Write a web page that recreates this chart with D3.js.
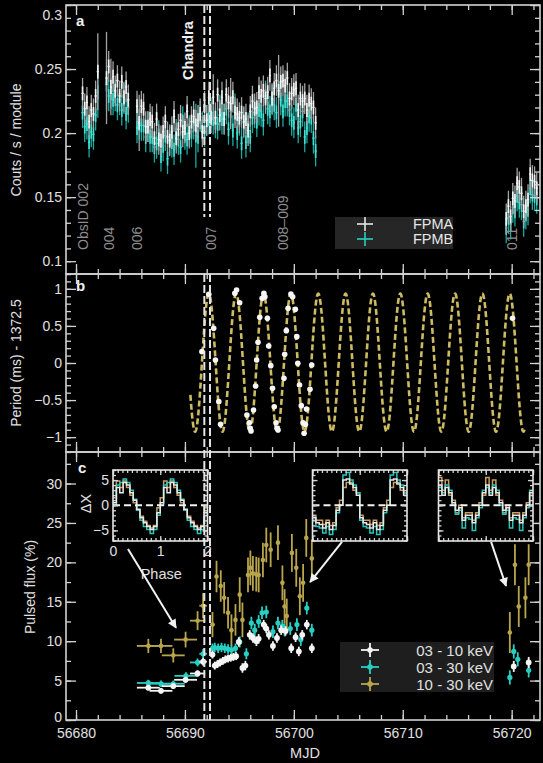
<!DOCTYPE html>
<html>
<head>
<meta charset="utf-8">
<script src="https://cdn.jsdelivr.net/npm/d3@7/dist/d3.min.js"></script>
<style>
html, body { margin: 0; padding: 0; background: #000; }
svg { display: block; }
</style>
</head>
<body>
<svg id="chart"></svg>
<script>
// ---------------- data ----------------

// NuSTAR count-rate light curve (counts / s / module), 0.2-day bins
const binWidth = 0.2;
const segmentStart = [56680.6, 56682.8, 56685.6, 56719.5];

const fpmaObs002 = [0.231, 0.219, 0.224, 0.209, 0.218, 0.215, 0.229, 0.248];
const fpmbObs002 = [0.216, 0.205, 0.207, 0.193, 0.201, 0.199, 0.214, 0.232];

const fpmaObs004 = [0.243, 0.252, 0.236, 0.244, 0.233, 0.241, 0.229, 0.240, 0.228, 0.236, 0.226];
const fpmbObs004 = [0.238, 0.229, 0.231, 0.226, 0.229, 0.222, 0.226, 0.218, 0.227, 0.215, 0.220];

const fpmaObs006to009 = [
  0.221, 0.208, 0.221, 0.219, 0.205, 0.205, 0.211, 0.209, 0.196, 0.211,
  0.195, 0.194, 0.201, 0.209, 0.197, 0.194, 0.201, 0.213, 0.196, 0.203,
  0.210, 0.201, 0.204, 0.217, 0.200, 0.209, 0.213, 0.206, 0.210, 0.215,
  0.201, 0.221, 0.210, 0.228, 0.212, 0.228, 0.212, 0.230, 0.214, 0.228,
  0.211, 0.230, 0.224, 0.223, 0.228, 0.216, 0.215, 0.212, 0.216, 0.209,
  0.211, 0.202, 0.217, 0.225, 0.219, 0.220, 0.232, 0.229, 0.233, 0.227,
  0.232, 0.245, 0.227, 0.235, 0.241, 0.233, 0.240, 0.241, 0.237, 0.243,
  0.227, 0.231, 0.234, 0.235, 0.218, 0.227, 0.225, 0.227, 0.218, 0.226,
  0.223, 0.220, 0.208
];
const fpmbObs006to009 = [
  0.204, 0.207, 0.206, 0.206, 0.197, 0.205, 0.197, 0.197, 0.189, 0.192,
  0.198, 0.182, 0.190, 0.198, 0.180, 0.195, 0.193, 0.187, 0.199, 0.195,
  0.189, 0.209, 0.199, 0.195, 0.202, 0.201, 0.207, 0.198, 0.197, 0.213,
  0.205, 0.201, 0.210, 0.211, 0.216, 0.211, 0.208, 0.207, 0.218, 0.211,
  0.211, 0.219, 0.203, 0.217, 0.202, 0.219, 0.200, 0.210, 0.192, 0.208,
  0.193, 0.204, 0.197, 0.212, 0.216, 0.209, 0.218, 0.217, 0.210, 0.229,
  0.219, 0.217, 0.226, 0.222, 0.216, 0.235, 0.226, 0.217, 0.225, 0.225,
  0.218, 0.210, 0.208, 0.222, 0.204, 0.209, 0.217, 0.197, 0.204, 0.213,
  0.212, 0.196, 0.186
];

const fpmaObs011 = [0.133, 0.143, 0.135, 0.149, 0.147, 0.161, 0.158, 0.153, 0.139, 0.143, 0.148, 0.168, 0.163, 0.162, 0.157];
const fpmbObs011 = [0.126, 0.134, 0.129, 0.142, 0.139, 0.151, 0.146, 0.144, 0.131, 0.137, 0.140, 0.157, 0.152, 0.151, 0.149];

// typical 1-sigma rate error, and bins with larger errors [MJD, error]
const rateErr = 0.012;
const fpmaWideErr = [[56682.0, 0.030], [56682.8, 0.036], [56683.2, 0.022], [56685.8, 0.022],
                     [56692.6, 0.018], [56694.2, 0.020], [56698.6, 0.028]];
const fpmbWideErr = [[56682.0, 0.020], [56682.8, 0.020], [56691.0, 0.025]];

// ObsID labels and their MJD positions
const obsLabels = ["ObsID 002", "004", "006", "007", "008–009", "011"];
const obsLabelMJD = [56680.64, 56683.03, 56685.60, 56692.39, 56699.01, 56720.04];

// Chandra observation window
const chandraMJD = [56691.78, 56692.30];

// Pulse period measurements [MJD, period - 1372.5 ms]
const periodPoints = [
  [56691.56, 0.153], [56692.19, 0.926], [56692.64, 0.467], [56692.80, 0.040],
  [56693.11, -0.521], [56693.27, -0.827], [56694.58, 0.939], [56694.74, 0.984],
  [56695.02, 0.813], [56695.69, -0.701], [56695.91, -0.805], [56695.98, -0.881],
  [56696.07, -0.917], [56696.30, -0.634], [56696.49, -0.310], [56696.58, 0.040],
  [56696.71, 0.279], [56696.87, 0.616], [56697.09, 0.872], [56697.25, 0.939],
  [56697.34, 0.894], [56697.57, 0.602], [56697.69, 0.229], [56697.88, -0.036],
  [56698.04, -0.342], [56698.20, -0.589], [56698.36, -0.805], [56698.46, -0.881],
  [56698.55, -0.903], [56699.09, -0.207], [56699.16, 0.117], [56699.31, 0.436],
  [56699.47, 0.737], [56699.73, 0.930], [56699.89, 0.894], [56700.14, 0.724],
  [56700.27, 0.355], [56700.36, -0.004], [56700.52, -0.297], [56700.68, -0.575],
  [56700.84, -0.805], [56700.94, -0.948], [56701.06, -0.827], [56701.16, -0.620],
  [56701.48, -0.355], [56701.64, -0.027], [56720.08, 0.602]
];

// Orbital model for the period modulation
const orbitPeriod = 2.512;     // days
const orbitAmp = 0.93;         // ms
const orbitOffset = 0.005;     // ms
const orbitPeakMJD = 56692.19;
const orbitSpan = [56690.50, 56721.19];

// Pulsed flux (%) per energy band: [MJD, value, half bin width, error]
const band03to10 = [
  [56686.64, 4.1, 1.05, 0.35], [56687.80, 3.7, 1.05, 0.35], [56688.93, 4.3, 1.05, 0.35],
  [56690.06, 5.1, 1.05, 0.4], [56691.16, 5.9, 0.7, 0.4], [56691.67, 7.4, 0.35, 0.5],
  [56692.53, 8.3, 0.2, 0.5], [56692.74, 6.9, 0.12, 0.5], [56692.99, 7.1, 0.12, 0.5],
  [56693.23, 7.3, 0.12, 0.5], [56693.48, 7.5, 0.12, 0.5], [56693.72, 7.7, 0.12, 0.5],
  [56693.96, 7.8, 0.12, 0.5], [56694.21, 7.9, 0.12, 0.5], [56694.45, 8.0, 0.12, 0.5],
  [56694.70, 8.1, 0.12, 0.5], [56694.94, 9.9, 0.12, 0.6], [56695.28, 6.6, 0.12, 0.6],
  [56695.55, 6.9, 0.12, 0.6], [56695.95, 10.8, 0.12, 0.6], [56696.25, 10.4, 0.12, 0.6],
  [56696.56, 10.0, 0.12, 0.6], [56696.77, 10.3, 0.12, 0.6], [56697.23, 12.1, 0.12, 0.6],
  [56697.47, 11.6, 0.12, 0.6], [56697.71, 10.8, 0.12, 0.6], [56698.08, 9.4, 0.12, 0.6],
  [56698.45, 10.4, 0.12, 0.6], [56698.84, 11.4, 0.12, 0.6], [56699.24, 11.3, 0.12, 0.6],
  [56699.76, 9.1, 0.12, 0.6], [56700.16, 10.5, 0.12, 0.6], [56700.46, 8.7, 0.12, 0.6],
  [56700.77, 10.8, 0.12, 0.6], [56701.19, 12.1, 0.12, 0.6], [56701.65, 9.1, 0.12, 0.6],
  [56720.19, 6.8, 0.12, 0.7], [56721.56, 7.3, 0.12, 0.7]
];
const band03to30 = [
  [56686.64, 4.7, 1.05, 0.4], [56687.80, 4.6, 1.05, 0.4], [56688.93, 4.6, 1.05, 0.4],
  [56690.09, 5.6, 1.05, 0.45], [56691.16, 7.3, 0.7, 0.5], [56691.67, 8.4, 0.35, 0.6],
  [56692.53, 9.1, 0.2, 0.6], [56692.74, 9.2, 0.12, 0.6], [56693.05, 9.1, 0.12, 0.6],
  [56693.36, 9.2, 0.12, 0.6], [56693.66, 9.1, 0.12, 0.6], [56693.96, 9.0, 0.12, 0.6],
  [56694.27, 8.9, 0.12, 0.6], [56694.64, 9.1, 0.12, 0.6], [56695.03, 9.9, 0.12, 0.7],
  [56695.64, 8.4, 0.12, 0.7], [56696.10, 12.3, 0.12, 0.8], [56696.41, 11.4, 0.12, 0.8],
  [56696.77, 12.5, 0.12, 0.8], [56697.08, 13.6, 0.12, 0.8], [56697.47, 13.7, 0.12, 0.8],
  [56698.08, 11.2, 0.12, 0.8], [56698.54, 12.3, 0.12, 0.8], [56698.94, 11.9, 0.12, 0.8],
  [56699.15, 11.4, 0.12, 0.8], [56699.67, 11.6, 0.12, 0.8], [56700.28, 12.1, 0.12, 0.8],
  [56700.64, 10.2, 0.12, 0.8], [56701.19, 14.2, 0.12, 0.8], [56701.65, 11.4, 0.12, 0.8],
  [56719.83, 5.4, 0.12, 0.9], [56720.19, 8.7, 0.12, 0.9], [56720.56, 7.7, 0.12, 0.9],
  [56721.56, 6.3, 0.12, 0.9]
];
const band10to30 = [
  [56686.64, 9.4, 1.05, 0.9], [56687.80, 9.4, 1.05, 0.9], [56688.93, 8.2, 1.05, 0.9],
  [56690.06, 10.2, 1.05, 1.0], [56691.16, 12.6, 0.7, 1.2], [56691.67, 14.5, 0.35, 1.6],
  [56692.53, 12.1, 0.2, 1.6], [56692.90, 18.2, 0.12, 2.0], [56693.29, 17.0, 0.12, 2.0],
  [56693.60, 15.5, 0.12, 2.0], [56693.96, 13.6, 0.12, 2.0], [56694.27, 11.4, 0.12, 2.0],
  [56694.64, 12.7, 0.12, 2.0], [56695.03, 15.9, 0.12, 2.2], [56695.28, 12.7, 0.12, 2.2],
  [56695.79, 18.4, 0.12, 2.2], [56696.01, 19.3, 0.12, 2.2], [56696.24, 18.6, 0.12, 2.2],
  [56696.55, 18.5, 0.12, 2.2], [56696.77, 18.4, 0.12, 2.2], [56697.16, 20.3, 0.12, 2.2],
  [56697.47, 22.2, 0.12, 2.2], [56697.87, 21.6, 0.12, 2.2], [56698.54, 22.5, 0.12, 2.2],
  [56698.95, 17.4, 0.12, 2.2], [56699.15, 14.4, 0.12, 2.2], [56699.35, 13.2, 0.12, 2.2],
  [56699.82, 21.2, 0.12, 2.4], [56700.22, 19.3, 0.12, 2.4], [56700.55, 15.7, 0.12, 2.4],
  [56700.85, 17.4, 0.12, 2.4], [56701.14, 23.1, 0.12, 2.4], [56701.65, 20.5, 0.12, 2.4],
  [56719.83, 11.1, 0.12, 2.6], [56720.30, 19.7, 0.12, 2.6], [56720.65, 14.4, 0.12, 2.6],
  [56721.26, 15.5, 0.12, 2.6], [56721.56, 19.7, 0.12, 2.6]
];

// Pulse profiles (ΔX per phase bin, 14 bins per cycle) for three epochs
const prof1Soft  = [0.5, 3.5, 2.5, 4.5, 4.0, 2.5, 1.0, -0.8, -2.5, -3.5, -4.2, -4.8, -4.2, -1.5];
const prof1Broad = [0.0, 4.0, 4.5, 5.2, 4.5, 3.0, 1.2, -1.0, -3.0, -4.2, -4.8, -5.6, -4.8, -2.0];
const prof1Hard  = [1.5, 4.8, 3.5, 4.8, 3.5, 2.0, 0.5, -1.0, -2.2, -3.2, -4.0, -4.5, -4.0, -0.5];
const prof2Soft  = [-2.5, -3.5, -3.8, -4.5, -3.5, -4.8, -4.0, -1.0, 0.0, 5.0, 5.2, 4.2, 3.5, 2.0];
const prof2Broad = [-3.0, -4.2, -4.5, -5.5, -4.2, -5.8, -4.8, -1.5, 0.0, 6.0, 6.5, 5.0, 4.0, 2.5];
const prof2Hard  = [-2.0, -3.0, -3.0, -3.8, -3.0, -4.0, -3.5, -0.5, 1.0, 3.5, 4.5, 4.5, 3.0, 2.5];
const prof3Soft  = [4.0, 2.0, 3.5, 2.5, 0.5, -1.0, -0.5, -3.0, -2.0, -2.0, -3.5, -2.0, 0.0, 2.5];
const prof3Broad = [3.5, 2.5, 4.0, 3.0, 0.0, -1.8, -1.0, -4.5, -2.5, -2.8, -5.0, -2.5, -0.5, 3.0];
const prof3Hard  = [5.5, 3.0, 5.0, 2.0, 1.0, -1.5, 0.0, -2.5, -1.5, -1.5, -3.0, -1.5, 0.5, 2.0];

// Arrows from each profile to its epoch: [fromMJD, from%, toMJD, to%]
const profileArrows = [
  [56684.77, 21.7, 56689.18, 11.7],
  [56704.42, 22.6, 56701.49, 17.5],
  [56718.11, 22.6, 56719.48, 17.0]
];

// Axis ticks
const mjdMajor = [56680, 56690, 56700, 56710, 56720];
const mjdMinor = d3.range(56680, 56723, 2);
const rateTicks = [0.1, 0.15, 0.2, 0.25, 0.3];
const rateMinor = d3.range(9, 31).map(d => d / 100);
const periodTicks = [-1, -0.5, 0, 0.5, 1];
const periodMinor = d3.range(-12, 13).map(d => d / 10);
const fluxTicks = [0, 5, 10, 15, 20, 25, 30];
const fluxMinor = d3.range(0, 34, 2.5);

// ---------------- styling ----------------
const W = 543, H = 763;
const FONT = "'Liberation Sans', Arial, Helvetica, sans-serif";
const AX = "#d2d2d2";
const TXT = "#e0e0e0";
const GOLD = "#b9a54c";
const CYAN = "#27cfc2";

const svg = d3.select("#chart").attr("width", W).attr("height", H)
  .style("background", "#000");

const frameL = 66, frameR = 540;
const aTop = 5, aBot = 274, bTop = 274, bBot = 452, cTop = 452, cBot = 720;

const x = d3.scaleLinear().domain([56679.08, 56722.6]).range([frameL, frameR]);
const yA = d3.scaleLinear().domain([0.09, 0.30]).range([aBot, aTop]);
const yB = d3.scaleLinear().domain([-1.2, 1.2]).range([bBot, bTop]);
const yC = d3.scaleLinear().domain([0, 34]).range([cBot, cTop]);

const defs = svg.append("defs");
function clip(id, top, bottom) {
  defs.append("clipPath").attr("id", id).append("rect")
    .attr("x", frameL).attr("y", top).attr("width", frameR - frameL).attr("height", bottom - top);
  return `url(#${id})`;
}
defs.append("marker").attr("id", "arrowHead")
  .attr("viewBox", "0 0 10 10").attr("refX", 9).attr("refY", 5)
  .attr("markerUnits", "userSpaceOnUse").attr("markerWidth", 10).attr("markerHeight", 9)
  .attr("orient", "auto")
  .append("path").attr("d", "M0,0 L10,5 L0,10 Z").attr("fill", "#f2f2f2");

// ---------------- axes / frames ----------------
function styleAxis(a) {
  a.select(".domain").remove();
  a.selectAll("line").attr("stroke", AX).attr("stroke-width", 1.3);
  a.selectAll("text").attr("fill", TXT).attr("font-family", FONT).attr("font-size", 14);
  return a;
}
function panelFrame(y, major, minor, top, bottom, fmt, xLabels) {
  const g = svg.append("g");
  const none = () => "";
  const add = (gen, tx, ty) => styleAxis(g.append("g").attr("transform", `translate(${tx},${ty})`).call(gen));
  add(d3.axisBottom(x).tickValues(mjdMinor).tickSize(-5).tickFormat(none), 0, bottom);
  add(d3.axisTop(x).tickValues(mjdMinor).tickSize(-5).tickFormat(none), 0, top);
  add(d3.axisBottom(x).tickValues(mjdMajor).tickSize(-10).tickPadding(8)
        .tickFormat(xLabels ? d3.format("d") : none), 0, bottom);
  add(d3.axisTop(x).tickValues(mjdMajor).tickSize(-10).tickFormat(none), 0, top);
  add(d3.axisLeft(y).tickValues(minor).tickSize(-5).tickFormat(none), frameL, 0);
  add(d3.axisRight(y).tickValues(minor).tickSize(-5).tickFormat(none), frameR, 0);
  const left = add(d3.axisLeft(y).tickValues(major).tickSize(-10).tickPadding(4).tickFormat(fmt), frameL, 0);
  add(d3.axisRight(y).tickValues(major).tickSize(-10).tickFormat(none), frameR, 0);
  g.append("rect").attr("x", frameL).attr("y", top)
    .attr("width", frameR - frameL).attr("height", bottom - top)
    .attr("fill", "none").attr("stroke", AX).attr("stroke-width", 1.6);
  return left;
}

function label(txt, px, py, opts = {}) {
  const t = svg.append("text")
    .attr("font-family", FONT).attr("font-size", opts.size || 14)
    .attr("fill", opts.color || TXT)
    .attr("font-weight", opts.bold ? "bold" : "normal")
    .attr("text-anchor", opts.anchor || "middle")
    .attr("dominant-baseline", opts.baseline || "auto")
    .text(txt);
  if (opts.rotate) t.attr("transform", `translate(${px},${py}) rotate(-90)`);
  else t.attr("x", px).attr("y", py);
  return t;
}

// ---------------- panel a: count rates ----------------
function rateRows(segments, wide) {
  const rows = [];
  segments.forEach((vals, s) => vals.forEach((v, i) => {
    const t = segmentStart[s] + i * binWidth;
    const w = wide.find(d => Math.abs(d[0] - t) < 0.05);
    rows.push({ t, v, e: w ? w[1] : rateErr });
  }));
  return rows;
}
const gA = svg.append("g").attr("clip-path", clip("clipA", aTop, aBot));
function drawRates(rows, barColor, coreColor) {
  const p = gA.append("g").selectAll("g").data(rows).join("g");
  p.append("line")
    .attr("x1", d => x(d.t)).attr("x2", d => x(d.t))
    .attr("y1", d => yA(d.v - d.e)).attr("y2", d => yA(d.v + d.e))
    .attr("stroke", barColor).attr("stroke-width", 1.3);
  p.append("line")
    .attr("x1", d => x(d.t)).attr("x2", d => x(d.t))
    .attr("y1", d => yA(d.v - 0.45 * rateErr)).attr("y2", d => yA(d.v + 0.45 * rateErr))
    .attr("stroke", coreColor).attr("stroke-width", 1.6);
  p.append("line")
    .attr("x1", d => x(d.t - binWidth / 2)).attr("x2", d => x(d.t + binWidth / 2))
    .attr("y1", d => yA(d.v)).attr("y2", d => yA(d.v))
    .attr("stroke", coreColor).attr("stroke-width", 1.3);
}
// FPMB underneath, FPMA on top
drawRates(rateRows([fpmbObs002, fpmbObs004, fpmbObs006to009, fpmbObs011], fpmbWideErr), "#18a99f", "#41e2d4");
drawRates(rateRows([fpmaObs002, fpmaObs004, fpmaObs006to009, fpmaObs011], fpmaWideErr), "#a3a3a3", "#f4f4f4");

const leftA = panelFrame(yA, rateTicks, rateMinor, aTop, aBot, d3.format("~g"), false);
leftA.selectAll(".tick text").filter(d => d === 0.3).attr("dy", "1.05em");

obsLabels.forEach((s, i) => {
  label(s, x(obsLabelMJD[i]), 250, { rotate: true, anchor: "start", baseline: "central", color: "#8e8e8e" });
});
label("Chandra", x(chandraMJD[0]) - 16, 80, { rotate: true, anchor: "start", baseline: "central", bold: true, size: 14.5, color: "#f0f0f0" });
label("a", 76, 26, { anchor: "start", bold: true, size: 15, color: "#f0f0f0" });

// legend a
svg.append("rect").attr("x", 335).attr("y", 217).attr("width", 118).attr("height", 32).attr("fill", "#262626");
[["FPMA", "#e6e6e6", 224], ["FPMB", CYAN, 239]].forEach(([name, col, ly]) => {
  svg.append("line").attr("x1", 357).attr("x2", 373).attr("y1", ly).attr("y2", ly).attr("stroke", col).attr("stroke-width", 1.6);
  svg.append("line").attr("x1", 365).attr("x2", 365).attr("y1", ly - 7).attr("y2", ly + 7).attr("stroke", col).attr("stroke-width", 1.6);
  label(name, 413, ly + 5, { anchor: "start", size: 14.5, color: "#e6e6e6" });
});

// ---------------- panel b: spin period ----------------
const gB = svg.append("g").attr("clip-path", clip("clipB", bTop, bBot));
const modelT = d3.range(orbitSpan[0], orbitSpan[1], 0.01);
gB.append("path")
  .datum(modelT)
  .attr("d", d3.line()
    .x(t => x(t))
    .y(t => yB(orbitOffset + orbitAmp * Math.cos(2 * Math.PI * (t - orbitPeakMJD) / orbitPeriod))))
  .attr("fill", "none").attr("stroke", "#cdbb62").attr("stroke-width", 2.6)
  .attr("stroke-dasharray", "6,3");
gB.selectAll("circle").data(periodPoints).join("circle")
  .attr("cx", d => x(d[0])).attr("cy", d => yB(d[1])).attr("r", 2.8).attr("fill", "#f6f6f6");

panelFrame(yB, periodTicks, periodMinor, bTop, bBot, d3.format("~g"), false);
label("b", 76, 291, { anchor: "start", bold: true, size: 15, color: "#f0f0f0" });

// ---------------- panel c: pulsed flux ----------------
const gC = svg.append("g").attr("clip-path", clip("clipC", cTop, cBot));
function drawBand(rows, color, r) {
  const p = gC.append("g").selectAll("g").data(rows).join("g");
  p.append("line")
    .attr("x1", d => x(d[0] - d[2])).attr("x2", d => x(d[0] + d[2]))
    .attr("y1", d => yC(d[1])).attr("y2", d => yC(d[1]))
    .attr("stroke", color).attr("stroke-width", 1.8);
  p.append("line")
    .attr("x1", d => x(d[0])).attr("x2", d => x(d[0]))
    .attr("y1", d => yC(d[1] - d[3])).attr("y2", d => yC(d[1] + d[3]))
    .attr("stroke", color).attr("stroke-width", 1.8);
  p.append("circle").attr("cx", d => x(d[0])).attr("cy", d => yC(d[1])).attr("r", r).attr("fill", color);
}
drawBand(band10to30, GOLD, 2.3);
drawBand(band03to30, CYAN, 2.6);
drawBand(band03to10, "#f4f4f4", 2.9);

const leftC = panelFrame(yC, fluxTicks, fluxMinor, cTop, cBot, d3.format("d"), true);
leftC.selectAll(".tick text").filter(d => d === 0).attr("dy", "0.1em");
label("c", 78, 473, { anchor: "start", bold: true, size: 15, color: "#f0f0f0" });

// pulse-profile insets
const insetBoxes = [
  { l: 113, r: 207.5, soft: prof1Soft, broad: prof1Broad, hard: prof1Hard, labels: true },
  { l: 312.5, r: 407, soft: prof2Soft, broad: prof2Broad, hard: prof2Hard, labels: false },
  { l: 438.5, r: 533, soft: prof3Soft, broad: prof3Broad, hard: prof3Hard, labels: false }
];
const insetTop = 470, insetBot = 541;
insetBoxes.forEach((box, k) => {
  const px = d3.scaleLinear().domain([0, 2]).range([box.l, box.r]);
  const py = d3.scaleLinear().domain([-7.1, 7]).range([insetBot, insetTop]);
  const g = svg.append("g");
  g.append("rect").attr("x", box.l).attr("y", insetTop).attr("width", box.r - box.l)
    .attr("height", insetBot - insetTop).attr("fill", "#000");
  defs.append("clipPath").attr("id", "inset" + k).append("rect")
    .attr("x", box.l).attr("y", insetTop).attr("width", box.r - box.l).attr("height", insetBot - insetTop);
  const gi = g.append("g").attr("clip-path", `url(#inset${k})`);
  const step = d3.line().x(d => px(d[0])).y(d => py(d[1])).curve(d3.curveStepAfter);
  const pts = vals => {
    const out = [];
    [0, 1].forEach(c => vals.forEach((v, i) => out.push([c + i / vals.length, v])));
    out.push([2, vals[vals.length - 1]]);
    return out;
  };
  [[box.hard, "#c99d5e"], [box.broad, "#2cc4b8"], [box.soft, "#e8e8e8"]].forEach(([vals, col]) => {
    gi.append("path").datum(pts(vals)).attr("d", step)
      .attr("fill", "none").attr("stroke", col).attr("stroke-width", 1.5);
  });
  gi.append("line").attr("x1", px(0)).attr("x2", px(2)).attr("y1", py(0)).attr("y2", py(0))
    .attr("stroke", "#f2f2f2").attr("stroke-width", 2).attr("stroke-dasharray", "7,4");
  const none = () => "";
  const add = (gen, tx, ty) => styleAxis(g.append("g").attr("transform", `translate(${tx},${ty})`).call(gen));
  const phMinor = d3.range(0, 21).map(d => d / 10);
  add(d3.axisBottom(px).tickValues(phMinor).tickSize(-3).tickFormat(none), 0, insetBot);
  add(d3.axisTop(px).tickValues(phMinor).tickSize(-3).tickFormat(none), 0, insetTop);
  add(d3.axisBottom(px).tickValues([0, 1, 2]).tickSize(-5).tickPadding(5)
        .tickFormat(box.labels ? d3.format("d") : none), 0, insetBot);
  add(d3.axisTop(px).tickValues([0, 1, 2]).tickSize(-5).tickFormat(none), 0, insetTop);
  const dxMinor = d3.range(-7, 8);
  add(d3.axisLeft(py).tickValues(dxMinor).tickSize(-3).tickFormat(none), box.l, 0);
  add(d3.axisRight(py).tickValues(dxMinor).tickSize(-3).tickFormat(none), box.r, 0);
  add(d3.axisLeft(py).tickValues([-5, 0, 5]).tickSize(-5).tickPadding(4)
        .tickFormat(box.labels ? d3.format("d") : none), box.l, 0);
  add(d3.axisRight(py).tickValues([-5, 0, 5]).tickSize(-5).tickFormat(none), box.r, 0);
  g.append("rect").attr("x", box.l).attr("y", insetTop).attr("width", box.r - box.l)
    .attr("height", insetBot - insetTop).attr("fill", "none").attr("stroke", "#e6e6e6").attr("stroke-width", 1.6);
  if (box.labels) {
    label("Phase", (box.l + box.r) / 2 + 1, 579, { size: 14.5 });
    label("ΔX", box.l - 27, (insetTop + insetBot) / 2 - 2, { rotate: true, baseline: "central", size: 14.5 });
  }
});

// arrows from insets to their epochs
svg.append("g").selectAll("line").data(profileArrows).join("line")
  .attr("x1", d => x(d[0])).attr("y1", d => yC(d[1]))
  .attr("x2", d => x(d[2])).attr("y2", d => yC(d[3]))
  .attr("stroke", "#f2f2f2").attr("stroke-width", 2).attr("marker-end", "url(#arrowHead)");

// legend c
svg.append("rect").attr("x", 340).attr("y", 642).attr("width", 154).attr("height", 50).attr("fill", "#1e1e1e");
[["03 - 10 keV", "#f4f4f4", 650], ["03 - 30 keV", CYAN, 667], ["10 - 30 keV", GOLD, 684]].forEach(([name, col, ly]) => {
  svg.append("line").attr("x1", 361).attr("x2", 379).attr("y1", ly).attr("y2", ly).attr("stroke", col).attr("stroke-width", 1.8);
  svg.append("line").attr("x1", 370).attr("x2", 370).attr("y1", ly - 7).attr("y2", ly + 7).attr("stroke", col).attr("stroke-width", 1.8);
  svg.append("circle").attr("cx", 370).attr("cy", ly).attr("r", 2.8).attr("fill", col);
  label(name, 493, ly + 5.5, { anchor: "end", size: 15, color: "#e0e0e0" });
});

// Chandra window markers across all panels
[chandraMJD[0], chandraMJD[1]].forEach(t => {
  svg.append("line").attr("x1", x(t)).attr("x2", x(t)).attr("y1", aTop).attr("y2", 217)
    .attr("stroke", "#e4e4e4").attr("stroke-width", 2).attr("stroke-dasharray", "8,3");
  svg.append("line").attr("x1", x(t)).attr("x2", x(t)).attr("y1", bTop).attr("y2", cBot)
    .attr("stroke", "#e4e4e4").attr("stroke-width", 2).attr("stroke-dasharray", "8,3");
});

// axis titles
label("Couts / s / module", 16, 140, { rotate: true, baseline: "central" });
label("Period (ms) - 1372.5", 16, 363, { rotate: true, baseline: "central" });
label("Pulsed flux (%)", 30, 587, { rotate: true, baseline: "central" });
label("MJD", 305, 758, { size: 14.5 });
</script>
</body>
</html>
